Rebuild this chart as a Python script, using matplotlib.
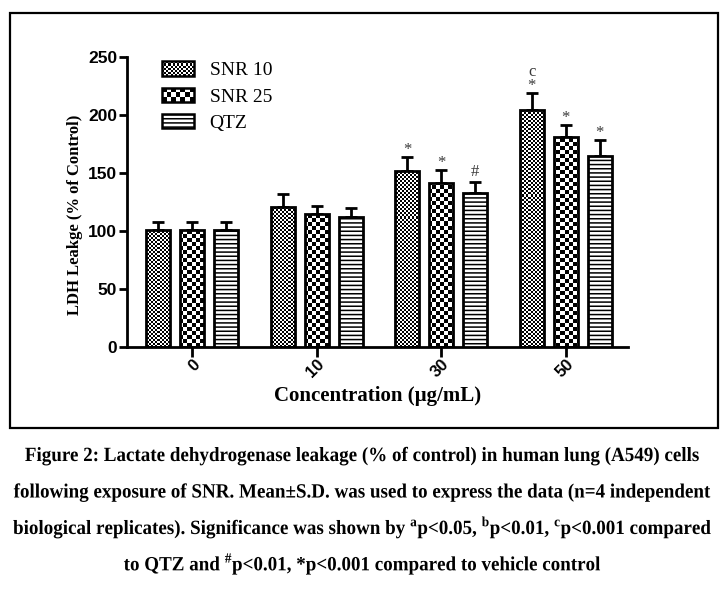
import numpy as np
import matplotlib.pyplot as plt
from matplotlib.patches import Rectangle, Patch, PathPatch
from matplotlib.legend_handler import HandlerBase
from matplotlib.textpath import TextPath
from matplotlib.font_manager import FontProperties
from matplotlib.transforms import Affine2D

# data
conc = ['0', '10', '30', '50']
series = ['SNR 10', 'SNR 25', 'QTZ']
snr10 = [100.5, 120.5, 152, 204.5]
snr10_sd = [7.3, 11, 11.5, 14.5]
snr25 = [100.5, 114.5, 141.5, 181]
snr25_sd = [7.3, 7, 11, 10.5]
qtz = [100.5, 112, 133, 165]
qtz_sd = [7.3, 8, 9.5, 13.5]
sig_snr10 = ['', '', '*', 'c\n*']
sig_snr25 = ['', '', '*', '*']
sig_qtz = ['', '', '#', '*']

caption = [
    "Figure 2: Lactate dehydrogenase leakage (% of control) in human lung (A549) cells",
    "following exposure of SNR. Mean\u00b1S.D. was used to express the data (n=4 independent",
    r"biological replicates). Significance was shown by $^\mathrm{a}$p<0.05, $^\mathrm{b}$p<0.01, $^\mathrm{c}$p<0.001 compared",
    r"to QTZ and $^\mathrm{\#}$p<0.01, *p<0.001 compared to vehicle control",
]

plt.rcParams['mathtext.fontset'] = 'custom'
plt.rcParams['mathtext.rm'] = 'Liberation Serif:bold'
plt.rcParams['hatch.linewidth'] = 1.1

serif = 'Liberation Serif'
sans = 'Liberation Sans'


def checker(rows, cols):
    return (np.indices((rows, cols)).sum(axis=0) % 2).astype(float)


class CheckerHandler(HandlerBase):
    def __init__(self, cell):
        super().__init__()
        self.cell = cell

    def create_artists(self, legend, orig_handle, xdescent, ydescent,
                       width, height, fontsize, trans):
        arts = [Rectangle((-xdescent, -ydescent), width, height, fc='white',
                          lw=0, transform=trans)]
        nx = max(1, int(round(width / self.cell)))
        ny = max(1, int(round(height / self.cell)))
        cw, ch = width / nx, height / ny
        for i in range(nx):
            for j in range(ny):
                if (i + j) % 2 == 0:
                    arts.append(Rectangle((-xdescent + i * cw, -ydescent + j * ch), cw, ch,
                                          fc='black', lw=0, transform=trans))
        arts.append(Rectangle((-xdescent, -ydescent), width, height, fill=False,
                              ec='black', lw=1.8, transform=trans))
        return arts


fig = plt.figure(figsize=(7.23, 5.93), dpi=100)
ax = fig.add_axes([127 / 723, 1 - 347 / 593, 501 / 723, 290 / 593])

x = np.arange(len(conc))
w = 0.193
off = 0.273
xlim = (-0.522, 3.50)
ylim = (0, 250)

err_kw = dict(elinewidth=2, capsize=4.5, capthick=2, ecolor='black', zorder=1)
b1 = ax.bar(x - off, snr10, w, yerr=[np.zeros(4), snr10_sd], facecolor='none',
            edgecolor='black', linewidth=2, zorder=3, error_kw=err_kw)
b2 = ax.bar(x, snr25, w, yerr=[np.zeros(4), snr25_sd], facecolor='none',
            edgecolor='black', linewidth=2, zorder=3, error_kw=err_kw)
b3 = ax.bar(x + off, qtz, w, yerr=[np.zeros(4), qtz_sd], facecolor='white',
            edgecolor='black', linewidth=2, hatch='----', zorder=3, error_kw=err_kw)

# checker fills, clipped to each bar
fine = checker(145, 250)
coarse = checker(72, 125)
for bars, pat in [(b1, fine), (b2, coarse)]:
    for bar in bars:
        im = ax.imshow(pat, extent=(*xlim, *ylim), aspect='auto', cmap='gray',
                       vmin=0, vmax=1, interpolation='nearest', zorder=2)
        im.set_clip_path(bar)

# significance marks
for xs, vals, sds, marks in [(x - off, snr10, snr10_sd, sig_snr10),
                             (x, snr25, snr25_sd, sig_snr25),
                             (x + off, qtz, qtz_sd, sig_qtz)]:
    for xi, v, s, m in zip(xs, vals, sds, marks):
        if m:
            ax.text(xi, v + s + (4.5 if m == '#' else 2.5), m, ha='center',
                    va='baseline', fontsize=12, family=serif, color='#3a3a3a',
                    linespacing=0.85, multialignment='center')

ax.set_xlim(*xlim)
ax.set_ylim(*ylim)
ax.set_yticks([0, 50, 100, 150, 200, 250])
ax.set_xticks(x)
ax.set_xticklabels(conc, rotation=45, ha='right', va='top', rotation_mode='anchor')
for lab in ax.get_yticklabels():
    lab.set_family(sans)
    lab.set_fontweight('bold')
    lab.set_fontsize(12.5)
for lab in ax.get_xticklabels():
    lab.set_family(sans)
    lab.set_fontweight('bold')
    lab.set_fontsize(12)

for side in ['top', 'right']:
    ax.spines[side].set_visible(False)
for side in ['left', 'bottom']:
    ax.spines[side].set_linewidth(2)
ax.tick_params(axis='y', length=6, width=2, pad=1)
ax.tick_params(axis='x', length=7, width=2, pad=0)

ax.set_ylabel('LDH Leakge (% of Control)', family=serif, fontweight='bold',
              fontsize=12, va='center')
ax.yaxis.set_label_coords(-0.104, 0.455)
ax.set_xlabel('Concentration (\u00b5g/mL)', family=serif, fontweight='bold',
              fontsize=15, labelpad=4)

handles = [Patch(), Patch(), Patch(facecolor='white', edgecolor='black',
                                   hatch='----', linewidth=1.8)]
leg = ax.legend(handles, series, loc='upper left', bbox_to_anchor=(0.035, 1.045),
                frameon=False, prop={'family': serif, 'size': 14},
                handlelength=1.65, handleheight=0.75, handletextpad=0.8, labelspacing=0.43,
                handler_map={handles[0]: CheckerHandler(1.5),
                             handles[1]: CheckerHandler(3.2)})
leg.set_zorder(5)

# frame around the plot
fig.patches.append(Rectangle((10 / 723, 1 - 428 / 593), 708 / 723, 415 / 593,
                             transform=fig.transFigure, fill=False,
                             edgecolor='black', linewidth=1.6))

# caption: bold serif, drawn as paths so it can be stretched vertically
fp = FontProperties(family=serif, weight='bold', size=13.7)
k = fig.dpi / 72
for i, line in enumerate(caption):
    tp = TextPath((0, 0), line, prop=fp)
    ext = tp.get_extents()
    base_y = 593 - (461 + 36.5 * i)
    tr = (Affine2D().translate(-(ext.x0 + ext.x1) / 2, 0)
          .scale(k, k * 1.06).translate(362, base_y))
    fig.add_artist(PathPatch(tp, transform=tr, facecolor='black', lw=0))

fig.savefig('out.png', dpi=100)
